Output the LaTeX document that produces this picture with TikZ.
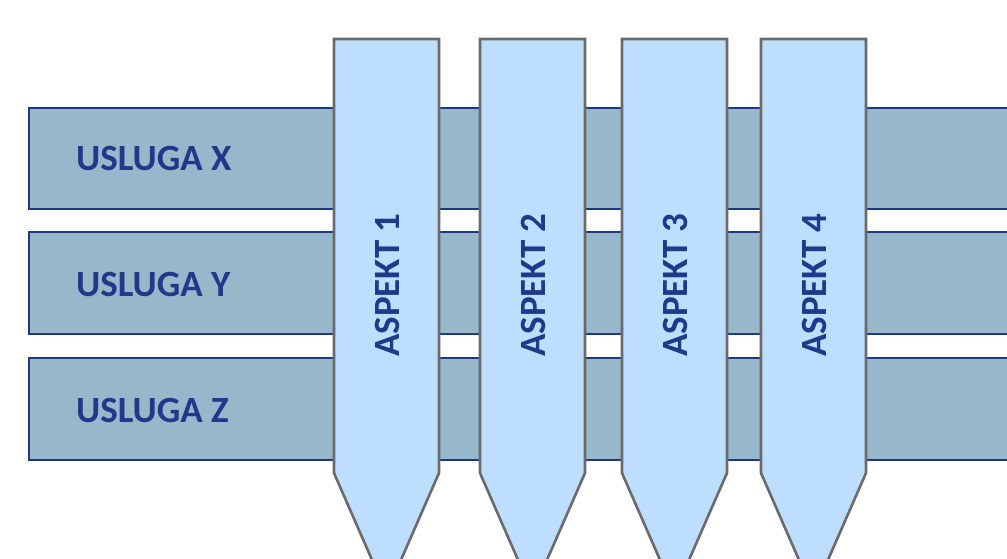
\documentclass[tikz,border=0pt]{standalone}
\usepackage{fontspec}
\setmainfont{Carlito}
\definecolor{barfill}{HTML}{97B8CB}
\definecolor{barline}{HTML}{1F3883}
\definecolor{aspfill}{HTML}{BDDEFF}
\definecolor{aspline}{HTML}{6A6A6A}
\definecolor{txt}{HTML}{22398B}
\tikzset{
  bar/.style={draw=barline, line width=2.4pt, fill=barfill},
  asp/.style={draw=aspline, line width=2.6pt, fill=aspfill, line join=miter},
  lbl/.style={text=txt, font=\bfseries\fontsize{37}{40}\selectfont, inner sep=0pt},
}
\begin{document}
\begin{tikzpicture}[x=1pt,y=-1pt]
\useasboundingbox (0,0) rectangle (1007,558);
\clip (0,0) rectangle (1007,558);
% bars
\foreach \n/\t/\b in {X/108/209, Y/232/334, Z/358/460}{
  \path[bar] (29,\t) rectangle (1030,\b);
}
\node[lbl, anchor=west] (ux) at (76,158) {USLUGA X};
\node[lbl, anchor=west] (uy) at (76,284) {USLUGA Y};
\node[lbl, anchor=west] (uz) at (76,410) {USLUGA Z};
% aspects
\foreach \i/\l/\r in {1/334/439, 2/480/585, 3/622/727, 4/761/866}{
  \path[asp] (\l,39) -- (\r,39) -- (\r,473) -- ({(\l+\r)/2},593) -- (\l,473) -- cycle;
  \node[lbl, rotate=90] (a\i) at ({(\l+\r)/2+1},285) {ASPEKT \i};
}
\end{tikzpicture}
\end{document}
